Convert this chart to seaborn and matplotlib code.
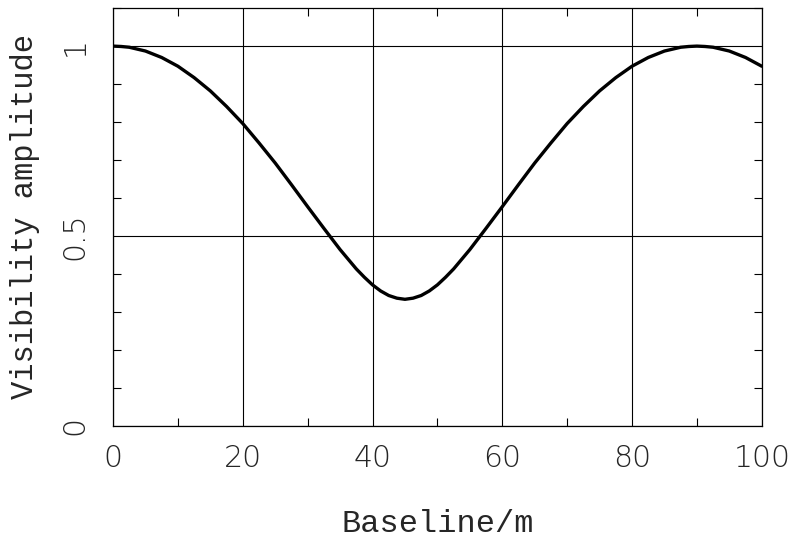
import numpy as np
import pandas as pd
import seaborn as sns
import matplotlib
matplotlib.use("Agg")
import matplotlib.pyplot as plt
from matplotlib.ticker import MultipleLocator, FixedLocator

# values
baseline = [0, 1.25, 2.5, 3.75, 5, 7.5, 10, 12.5, 15, 17.5, 20, 22.5, 25, 27.5,
            30, 32.5, 35, 37.5, 38.75, 40, 41.25, 42.5, 43.75, 45, 46.25, 47.5,
            48.75, 50, 51.25, 52.5, 55, 57.5, 60, 62.5, 65, 67.5, 70, 72.5, 75,
            77.5, 80, 82.5, 85, 86.25, 87.5, 88.75, 90, 91.25, 92.5, 93.75, 95,
            97.5, 100]
amplitude = [1.000, 0.999, 0.997, 0.992, 0.987, 0.970, 0.947, 0.917, 0.882,
             0.841, 0.796, 0.745, 0.692, 0.635, 0.577, 0.520, 0.464, 0.413,
             0.391, 0.371, 0.355, 0.343, 0.336, 0.333, 0.336, 0.343, 0.355,
             0.371, 0.391, 0.413, 0.464, 0.520, 0.577, 0.635, 0.692, 0.745,
             0.796, 0.841, 0.882, 0.917, 0.947, 0.970, 0.987, 0.992, 0.997,
             0.999, 1.000, 0.999, 0.997, 0.992, 0.987, 0.970, 0.947]

x_major = [0, 20, 40, 60, 80, 100]
x_labels = ["0", "20", "40", "60", "80", "100"]
y_major = [0, 0.5, 1]
y_labels = ["0", "0.5", "1"]

dt = pd.DataFrame({"baseline": baseline, "amplitude": amplitude})

sns.set_style("ticks")
fig = plt.figure(figsize=(7.96, 5.43), dpi=100)
ax = fig.add_axes([0.142, 0.216, 0.815, 0.769])

sns.lineplot(data=dt, x="baseline", y="amplitude", color="black", lw=2.4,
             solid_joinstyle="round", ax=ax)

ax.set_xlim(0, 100)
ax.set_ylim(0, 1.1)
ax.xaxis.set_major_locator(FixedLocator(x_major))
ax.yaxis.set_major_locator(FixedLocator(y_major))
ax.xaxis.set_minor_locator(MultipleLocator(10))
ax.yaxis.set_minor_locator(MultipleLocator(0.1))
ax.set_xticklabels(x_labels, fontfamily="DejaVu Sans", fontweight="light", fontsize=21.5)
ax.set_yticklabels(y_labels, fontfamily="DejaVu Sans", fontweight="light", fontsize=21.5,
                   rotation=90, va="center")
ax.grid(True, which="major", color="black", lw=0.8)
ax.tick_params(which="major", length=0, pad=13)
ax.tick_params(axis="y", which="major", pad=17)
ax.tick_params(which="minor", direction="in", length=6, width=0.8,
               top=True, right=True, color="black")
for s in ax.spines.values():
    s.set_color("black")
    s.set_linewidth(0.9)
    s.set_visible(True)

ax.set_xlabel("Baseline/m", fontfamily="Liberation Mono", fontsize=23, labelpad=26)
ax.set_ylabel("Visibility amplitude", fontfamily="Liberation Mono", fontsize=22, labelpad=15)

fig.savefig("out.png", dpi=100)
